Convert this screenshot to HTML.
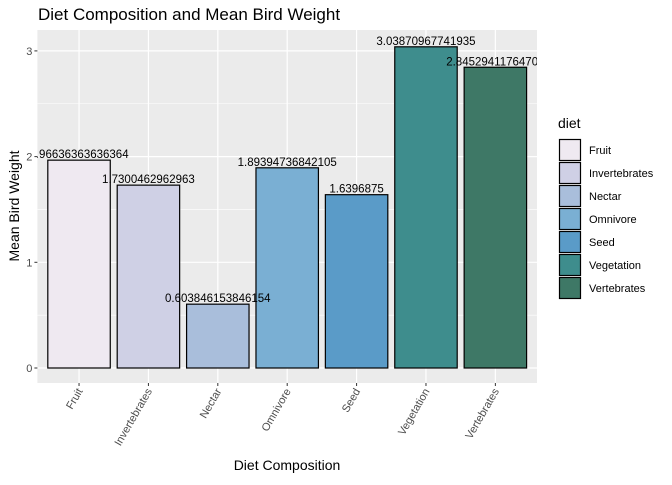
<!DOCTYPE html>
<html><head><meta charset="utf-8"><style>
body{margin:0;background:#fff;font-family:"Liberation Sans",sans-serif}
</style></head><body>
<svg id="c" width="672" height="480" xmlns="http://www.w3.org/2000/svg" style="font-family:'Liberation Sans',sans-serif">
<defs><clipPath id="pc"><rect x="37.4" y="30" width="499.6" height="353"/></clipPath></defs>
</svg>
<script>
const categories=["Fruit","Invertebrates","Nectar","Omnivore","Seed","Vegetation","Vertebrates"];
const values=[1.96636363636364,1.7300462962963,0.603846153846154,1.89394736842105,1.6396875,3.03870967741935,2.84529411764706];
const valueLabels=["1.96636363636364","1.7300462962963","0.603846153846154","1.89394736842105","1.6396875","3.03870967741935","2.84529411764706"];
const colors=["#efe9f1","#cfd0e5","#a9bedb","#7aafd3","#5a9bc8","#3e8d8d","#3e7866"];
const yTicks=[0,1,2,3];
const svg=document.getElementById('c');
const NS="http://www.w3.org/2000/svg";
const PL=37.4,PR=537,PT=30,PB=383;
const y0=368,yUnit=105.7;
function ys(v){return y0-v*yUnit;}
const step=(PR-PL)/(categories.length-1+1.2);
function xs(i){return PL+step*(0.6+i);}
function mk(t,a,txt){const e=document.createElementNS(NS,t);for(const k in a)e.setAttribute(k,a[k]);if(txt!==undefined)e.textContent=txt;svg.appendChild(e);return e;}
let e;
e=mk('rect',{x:PL,y:PT,width:PR-PL,height:PB-PT,fill:'#ebebeb'});


for(let i=0;i<yTicks.length-1;i++){e=mk('line',{x1:PL,x2:PR,y1:ys(yTicks[i]+0.5),y2:ys(yTicks[i]+0.5),stroke:'#fff','stroke-width':0.6});

}
yTicks.forEach(t=>{e=mk('line',{x1:PL,x2:PR,y1:ys(t),y2:ys(t),stroke:'#fff','stroke-width':1.2});


e=mk('line',{x1:PL-3,x2:PL,y1:ys(t),y2:ys(t),stroke:'#333'});


e=mk('text',{x:PL-5,y:ys(t)+4,'text-anchor':'end','font-size':11,fill:'#4d4d4d'},t);

});
categories.forEach((c,i)=>{e=mk('line',{x1:xs(i),x2:xs(i),y1:PT,y2:PB,stroke:'#fff','stroke-width':1.2});

});
const bw=step*0.9;
categories.forEach((c,i)=>{
e=mk('rect',{x:xs(i)-bw/2,y:ys(values[i]),width:bw,height:ys(0)-ys(values[i]),fill:colors[i],stroke:'#000','stroke-width':1.2});


e=mk('line',{x1:xs(i),x2:xs(i),y1:PB,y2:PB+3,stroke:'#333'});


e=mk('text',{x:xs(i)+4,y:PB+8,'text-anchor':'end','font-size':11,fill:'#4d4d4d',transform:`rotate(-60 ${xs(i)+4} ${PB+8})`},c);


});
categories.forEach((c,i)=>{
e=mk('text',{x:xs(i),y:ys(values[i])-2,'text-anchor':'middle','font-size':11.5,fill:'#000','clip-path':'url(#pc)'},valueLabels[i]);


});
e=mk('text',{x:38,y:20,'font-size':17,fill:'#000'},'Diet Composition and Mean Bird Weight');


e=mk('text',{x:287,y:470,'text-anchor':'middle','font-size':14,fill:'#000'},'Diet Composition');


e=mk('text',{x:19,y:206,'text-anchor':'middle','font-size':14,fill:'#000',transform:'rotate(-90 19 206)'},'Mean Bird Weight');


e=mk('text',{x:558,y:128,'font-size':14,fill:'#000'},'diet');


categories.forEach((c,i)=>{const ky=139+i*23;
e=mk('rect',{x:559.5,y:ky+0.5,width:21,height:21,fill:colors[i],stroke:'#000','stroke-width':1.2});


e=mk('text',{x:589,y:ky+15,'font-size':11,fill:'#000'},c);

});
</script>
</body></html>
